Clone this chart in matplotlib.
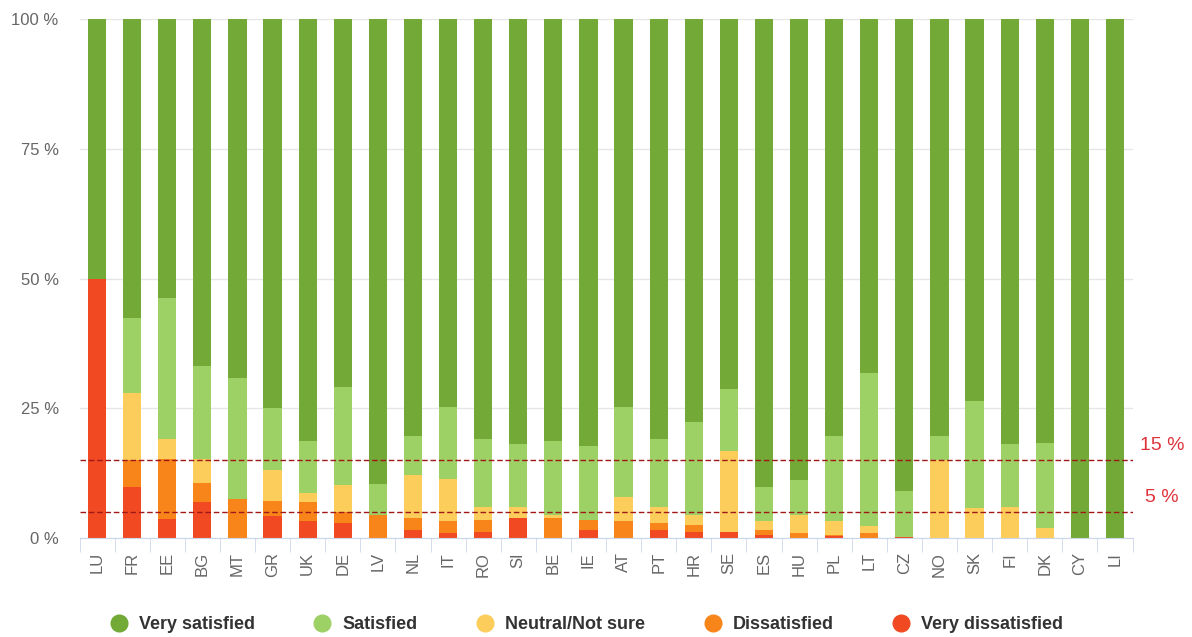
import numpy as np
import matplotlib.pyplot as plt

plt.rcParams['font.family'] = ['Liberation Sans', 'DejaVu Sans']

countries = ['LU', 'FR', 'EE', 'BG', 'MT', 'GR', 'UK', 'DE', 'LV', 'NL', 'IT', 'RO', 'SI', 'BE', 'IE',
             'AT', 'PT', 'HR', 'SE', 'ES', 'HU', 'PL', 'LT', 'CZ', 'NO', 'SK', 'FI', 'DK', 'CY', 'LI']

# segment shares in %, bottom to top
very_dissatisfied = [50.0, 9.8, 3.8, 6.9, 0.0, 4.3, 3.3, 3.0, 0.0, 1.6, 1.0, 1.3, 3.9, 0.0, 1.6,
                     0.0, 1.6, 1.3, 1.3, 0.7, 0.0, 0.4, 0.0, 0.3, 0.0, 0.0, 0.0, 0.0, 0.0, 0.0]
dissatisfied = [0.0, 5.2, 11.4, 3.8, 7.6, 2.9, 3.6, 2.0, 4.4, 2.3, 2.3, 2.3, 0.0, 3.9, 2.0,
                3.3, 1.3, 1.3, 0.0, 0.9, 1.0, 0.3, 1.0, 0.0, 0.0, 0.0, 0.0, 0.0, 0.0, 0.0]
neutral = [0.0, 13.0, 3.9, 4.5, 0.0, 5.9, 1.9, 5.2, 0.0, 8.3, 8.1, 2.4, 2.1, 0.6, 0.0,
           4.7, 3.1, 1.8, 15.5, 1.8, 3.4, 2.6, 1.3, 0.0, 15.0, 5.8, 6.0, 2.0, 0.0, 0.0]
satisfied = [0.0, 14.4, 27.1, 18.0, 23.2, 11.9, 9.9, 18.9, 6.0, 7.5, 13.9, 13.1, 12.1, 14.2, 14.2,
             17.3, 13.1, 17.9, 11.9, 6.4, 6.9, 16.4, 29.5, 8.8, 4.7, 20.7, 12.1, 16.4, 0.0, 0.0]
very_satisfied = list(100 - np.array(very_dissatisfied) - np.array(dissatisfied)
                      - np.array(neutral) - np.array(satisfied))

labels = ['Very satisfied', 'Satisfied', 'Neutral/Not sure', 'Dissatisfied', 'Very dissatisfied']
colors = ['#72a937', '#9dd065', '#fccd5a', '#f8851a', '#f14a22']
thresholds = [15, 5]

fig = plt.figure(figsize=(11.92, 6.37), dpi=100)
ax = fig.add_axes([0.0667, 0.155, 0.8834, 0.815])

x = np.arange(len(countries))
series = [very_dissatisfied, dissatisfied, neutral, satisfied, very_satisfied]
series_colors = colors[::-1]
bottom = np.zeros(len(countries))
for vals, c in zip(series, series_colors):
    ax.bar(x, vals, 0.52, bottom=bottom, color=c, zorder=2)
    bottom += np.array(vals)

ax.set_xlim(-0.5, len(countries) - 0.5)
ax.set_ylim(0, 100)
ax.set_yticks([0, 25, 50, 75, 100])
ax.set_yticklabels(['0 %', '25 %', '50 %', '75 %', '100 %'], color='#666666', fontsize=12)
ax.yaxis.grid(True, color='#e6e6e6', linewidth=1, zorder=0)
ax.tick_params(axis='y', length=0, pad=15)

ax.set_xticks(x)
ax.set_xticklabels(countries, rotation=90, color='#666666', fontsize=12)
ax.set_xticks(np.arange(len(countries) + 1) - 0.5, minor=True)
ax.tick_params(axis='x', which='major', length=0, pad=10)
ax.tick_params(axis='x', which='minor', length=10, color='#ccd6eb')

for s in ['top', 'right', 'left']:
    ax.spines[s].set_visible(False)
ax.spines['bottom'].set_color('#ccd6eb')

for t in thresholds:
    ax.axhline(t, color='#a01818', linestyle=(0, (4, 2)), linewidth=1, zorder=3)
    ax.text(1.028, t + 1.2, f'{t} %', transform=ax.get_yaxis_transform(), ha='center',
            va='bottom', color='#e0323a', fontsize=14)

handles = [plt.Line2D([], [], marker='o', linestyle='', markersize=12, color=c) for c in colors]
leg = fig.legend(handles, labels, loc='lower center', bbox_to_anchor=(0.492, -0.02), ncol=5,
                 frameon=False, fontsize=13, handlelength=1.0, handletextpad=0.6,
                 columnspacing=3.25)
for t in leg.get_texts():
    t.set_color('#333333')
    t.set_fontweight('bold')

fig.savefig('out.png', dpi=100)
